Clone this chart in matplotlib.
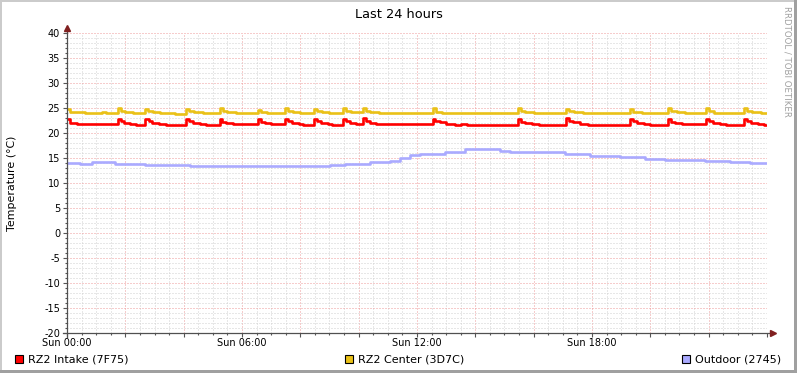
import matplotlib
matplotlib.use('Agg')
import matplotlib.pyplot as plt
from matplotlib.ticker import MultipleLocator, FuncFormatter
from matplotlib.patches import Rectangle

# ---------------- data (hours since Sun 00:00, degrees C) ----------------
title = "Last 24 hours"
y_label = "Temperature (°C)"
x_tick_hours = [0, 6, 12, 18]
x_tick_labels = ["Sun 00:00", "Sun 06:00", "Sun 12:00", "Sun 18:00"]
legend_labels = ["RZ2 Intake (7F75)", "RZ2 Center (3D7C)", "Outdoor (2745)"]
series_colors = ["#FF0000", "#EAC117", "#AAAAFF"]

intake_t = [0.00, 0.10, 0.35,
            1.75, 1.85, 1.97, 2.15, 2.35,
            2.67, 2.80, 2.92, 3.15, 3.40,
            4.08, 4.18, 4.32, 4.55, 4.75, 4.90, 5.10,
            5.25, 5.33, 5.45, 5.70,
            6.55, 6.65, 6.78, 7.00,
            7.47, 7.57, 7.70, 7.95, 8.10,
            8.47, 8.57, 8.70, 8.95, 9.10,
            9.46, 9.56, 9.70, 9.90,
            10.15, 10.25, 10.40, 10.60, 10.90,
            12.55, 12.63, 12.78, 13.00, 13.30, 13.50, 13.70,
            14.80, 15.05,
            15.46, 15.55, 15.70, 15.95, 16.20,
            17.11, 17.20, 17.35, 17.60, 17.85, 18.10, 18.30, 18.60, 18.85,
            19.30, 19.40, 19.55, 19.80, 20.00, 20.25, 20.45,
            20.61, 20.70, 20.85, 21.10,
            21.91, 22.00, 22.15, 22.40, 22.60, 22.80, 23.00,
            23.21, 23.30, 23.45, 23.70, 23.90, 24.00]
intake_v = [22.9, 22.1, 21.75,
            22.9, 22.45, 22.1, 21.8, 21.7,
            22.9, 22.4, 22.1, 21.9, 21.7,
            22.9, 22.35, 22.05, 21.8, 21.7, 21.55, 21.7,
            22.85, 22.3, 22.0, 21.75,
            22.8, 22.3, 22.0, 21.75,
            22.85, 22.35, 22.05, 21.8, 21.7,
            22.9, 22.4, 22.1, 21.8, 21.7,
            22.85, 22.35, 22.05, 21.75,
            23.0, 22.45, 22.1, 21.9, 21.75,
            22.9, 22.4, 22.2, 21.9, 21.7, 21.9, 21.7,
            21.6, 21.7,
            22.8, 22.3, 22.05, 21.8, 21.7,
            22.95, 22.45, 22.15, 21.85, 21.7, 21.55, 21.7, 21.6, 21.7,
            22.9, 22.35, 22.05, 21.8, 21.7, 21.55, 21.7,
            22.9, 22.3, 22.0, 21.75,
            22.85, 22.35, 22.05, 21.8, 21.7, 21.6, 21.7,
            22.9, 22.4, 22.1, 21.8, 21.7, 21.7]

center_t = [0.00, 0.10, 0.60, 1.00, 1.20, 1.35,
            1.75, 1.85, 2.00, 2.25, 2.45,
            2.67, 2.78, 2.95, 3.20, 3.45, 3.70,
            4.08, 4.18, 4.35, 4.65,
            5.25, 5.35, 5.50, 5.80, 6.05,
            6.55, 6.65, 6.85,
            7.47, 7.57, 7.75, 8.00,
            8.47, 8.57, 8.75, 9.00,
            9.46, 9.56, 9.75,
            10.15, 10.25, 10.40, 10.70, 11.00,
            12.55, 12.65, 12.85, 13.20, 13.50, 13.70, 14.40, 14.60,
            15.46, 15.55, 15.70, 16.00, 16.40, 16.55,
            17.11, 17.20, 17.40, 17.70, 18.00,
            19.30, 19.40, 19.70, 20.10, 20.25,
            20.61, 20.70, 20.90, 21.20, 21.40,
            21.91, 22.00, 22.20, 22.50,
            23.21, 23.30, 23.50, 23.80, 24.00]
center_v = [24.9, 24.2, 24.1, 24.0, 24.15, 23.95,
            25.0, 24.5, 24.2, 24.05, 23.95,
            24.9, 24.45, 24.25, 24.1, 24.0, 23.9,
            24.8, 24.4, 24.15, 24.0,
            25.0, 24.5, 24.25, 24.05, 23.95,
            24.7, 24.3, 24.05,
            25.0, 24.45, 24.2, 24.0,
            24.9, 24.4, 24.15, 24.0,
            25.0, 24.45, 24.15,
            25.0, 24.45, 24.2, 24.05, 23.95,
            25.1, 24.3, 24.1, 24.0, 24.1, 23.95, 24.05, 23.95,
            25.0, 24.5, 24.15, 24.0, 24.1, 23.95,
            24.9, 24.45, 24.3, 24.1, 24.0,
            24.9, 24.2, 24.0, 24.1, 23.95,
            24.95, 24.45, 24.2, 24.05, 23.95,
            24.95, 24.4, 24.1, 24.0,
            24.95, 24.45, 24.2, 24.0, 24.0]

outdoor_t = [0.00, 0.45, 0.86, 1.65, 2.67, 4.22, 6.62, 9.02, 9.53, 10.39,
             11.07, 11.42, 11.76, 12.10, 12.96, 13.65, 14.85, 15.19, 17.07,
             17.93, 18.96, 19.82, 20.50, 21.87, 22.73, 23.42, 24.00]
outdoor_v = [14.05, 13.85, 14.2, 13.9, 13.7, 13.5, 13.35, 13.55, 13.9, 14.2,
             14.5, 15.0, 15.6, 15.9, 16.2, 16.75, 16.5, 16.2, 15.8,
             15.4, 15.15, 14.9, 14.6, 14.45, 14.25, 14.05, 14.05]

# ---------------- figure ----------------
W, H = 797, 373
fig = plt.figure(figsize=(W / 100, H / 100), dpi=100)
fig.patch.set_facecolor('white')
plt.rcParams['font.family'] = ['DejaVu Sans']

# 3D-ish frame around canvas
fig.add_artist(Rectangle((0, 1 - 2 / H), 1, 2 / H, transform=fig.transFigure,
                         facecolor='#CBCBCB', edgecolor='none'))
fig.add_artist(Rectangle((0, 0), 2 / W, 1, transform=fig.transFigure,
                         facecolor='#CBCBCB', edgecolor='none'))
fig.add_artist(Rectangle((1 - 3 / W, 0), 3 / W, 1, transform=fig.transFigure,
                         facecolor='#A0A0A0', edgecolor='none'))
fig.add_artist(Rectangle((0, 0), 1, 3 / H, transform=fig.transFigure,
                         facecolor='#A0A0A0', edgecolor='none'))

ax = fig.add_axes([67 / W, (H - 333) / H, 700 / W, 300 / H])
ax.set_facecolor('white')
ax.set_xlim(0, 24)
ax.set_ylim(-20, 40)

ax.xaxis.set_major_locator(MultipleLocator(2))
ax.xaxis.set_minor_locator(MultipleLocator(0.5))
ax.yaxis.set_major_locator(MultipleLocator(5))
ax.yaxis.set_minor_locator(MultipleLocator(1))

label_map = dict(zip(x_tick_hours, x_tick_labels))
ax.xaxis.set_major_formatter(FuncFormatter(
    lambda v, p: label_map.get(int(round(v)), '') if abs(v - round(v)) < 1e-6 else ''))
ax.yaxis.set_major_formatter(FuncFormatter(lambda v, p: f"{int(round(v))}"))

ax.grid(which='minor', color='#D0D0D0', linestyle=(0, (1, 2)), linewidth=0.72)
ax.grid(which='major', color='#EE9A9A', linestyle=(0, (1, 2)), linewidth=0.72)
ax.set_axisbelow(True)

ax.tick_params(which='major', length=3, width=0.8, color='#555555',
               labelsize=7, pad=2, labelcolor='black')
ax.tick_params(axis='x', which='major', pad=0.5)
ax.tick_params(which='minor', length=1.5, width=0.8, color='#555555')

for s in ax.spines.values():
    s.set_visible(False)

# axis lines with arrows
ax.plot([0, 0], [-4 / 300, 1.015], transform=ax.transAxes, color='#505050',
        lw=0.9, clip_on=False, zorder=5)
ax.plot([-4 / 700, 1.006], [0, 0], transform=ax.transAxes, color='#505050',
        lw=0.9, clip_on=False, zorder=5)
ax.plot([0], [1.018], marker='^', markersize=4, color='#802020',
        transform=ax.transAxes, clip_on=False, zorder=6)
ax.plot([1.008], [0], marker='>', markersize=4, color='#802020',
        transform=ax.transAxes, clip_on=False, zorder=6)

# series
ax.plot(intake_t, intake_v, drawstyle='steps-post', color=series_colors[0], lw=1.9, zorder=3)
ax.plot(center_t, center_v, drawstyle='steps-post', color=series_colors[1], lw=1.9, zorder=3)
ax.plot(outdoor_t, outdoor_v, drawstyle='steps-post', color=series_colors[2], lw=1.9, zorder=3)

# texts
fig.text(399 / W, 1 - 14 / H, title, ha='center', va='center', fontsize=9.3)
fig.text(12 / W, 1 - 183 / H, y_label, ha='center', va='center', rotation=90, fontsize=7.9)
fig.text(787 / W, 1 - 61 / H, "RRDTOOL / TOBI OETIKER", ha='center', va='center',
         rotation=270, fontsize=6.2, color='#A0A0A0')

# legend
leg_x = [15, 345, 682]
for x0, lab, col in zip(leg_x, legend_labels, series_colors):
    fig.add_artist(Rectangle((x0 / W, 1 - 363 / H), 8 / W, 8 / H, transform=fig.transFigure,
                             facecolor=col, edgecolor='black', linewidth=0.8))
    fig.text((x0 + 13) / W, 1 - 359 / H, lab, ha='left', va='center', fontsize=8.0)

fig.savefig('out.png', dpi=100)
